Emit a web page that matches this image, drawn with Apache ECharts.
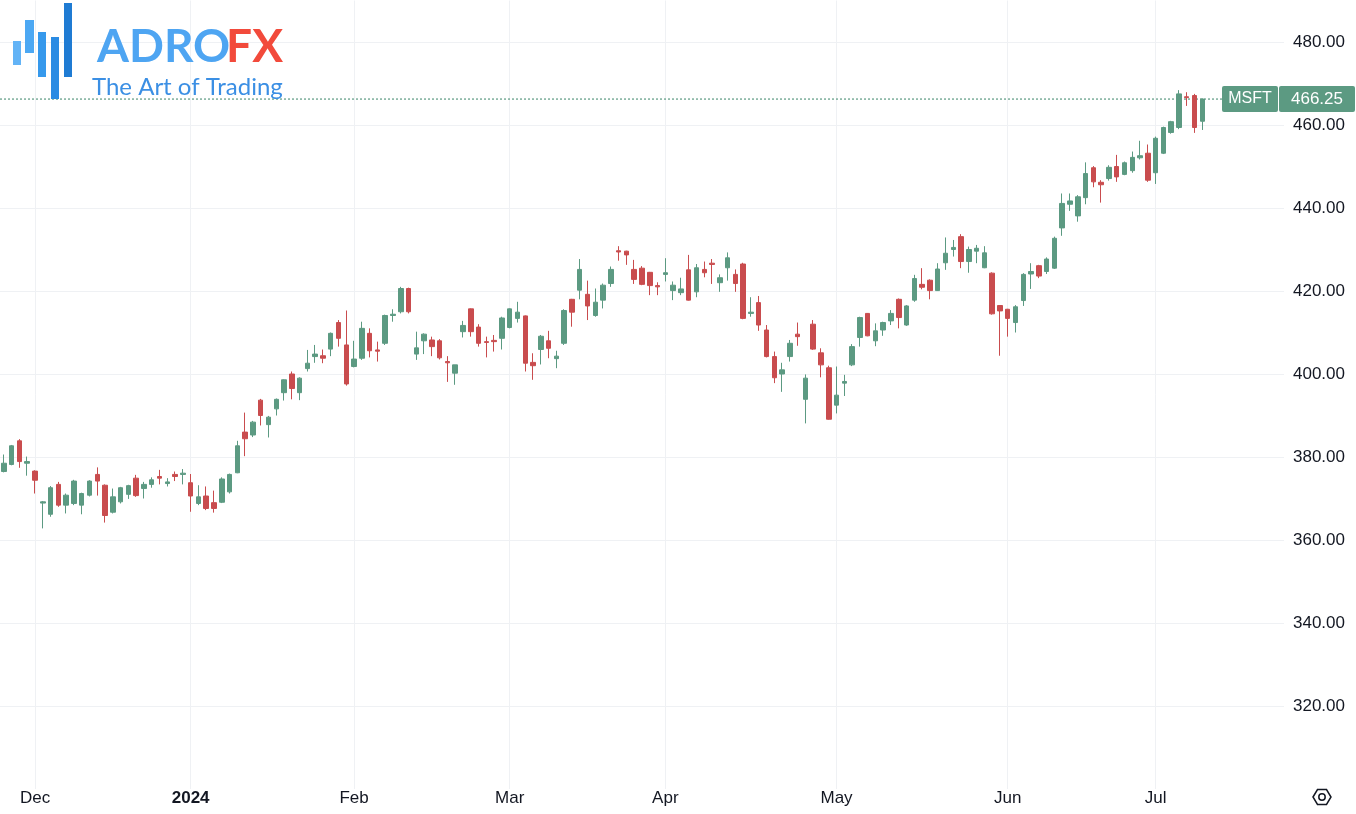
<!DOCTYPE html>
<html><head><meta charset="utf-8">
<script src="https://cdn.jsdelivr.net/npm/echarts@6/dist/echarts.min.js"></script>
<style>html,body{margin:0;padding:0;background:#fff;}#c{width:1356px;height:814px;}</style>
</head><body><div id="c"></div>
<script>
const symbol = 'MSFT';
const dates = [
'2023-11-27','2023-11-28','2023-11-29','2023-11-30',
'2023-12-01','2023-12-04','2023-12-05','2023-12-06','2023-12-07','2023-12-08','2023-12-11','2023-12-12','2023-12-13','2023-12-14','2023-12-15','2023-12-18','2023-12-19','2023-12-20','2023-12-21','2023-12-22','2023-12-26','2023-12-27','2023-12-28','2023-12-29',
'2024-01-02','2024-01-03','2024-01-04','2024-01-05','2024-01-08','2024-01-09','2024-01-10','2024-01-11','2024-01-12','2024-01-16','2024-01-17','2024-01-18','2024-01-19','2024-01-22','2024-01-23','2024-01-24','2024-01-25','2024-01-26','2024-01-29','2024-01-30','2024-01-31',
'2024-02-01','2024-02-02','2024-02-05','2024-02-06','2024-02-07','2024-02-08','2024-02-09','2024-02-12','2024-02-13','2024-02-14','2024-02-15','2024-02-16','2024-02-20','2024-02-21','2024-02-22','2024-02-23','2024-02-26','2024-02-27','2024-02-28','2024-02-29',
'2024-03-01','2024-03-04','2024-03-05','2024-03-06','2024-03-07','2024-03-08','2024-03-11','2024-03-12','2024-03-13','2024-03-14','2024-03-15','2024-03-18','2024-03-19','2024-03-20','2024-03-21','2024-03-22','2024-03-25','2024-03-26','2024-03-27','2024-03-28',
'2024-04-01','2024-04-02','2024-04-03','2024-04-04','2024-04-05','2024-04-08','2024-04-09','2024-04-10','2024-04-11','2024-04-12','2024-04-15','2024-04-16','2024-04-17','2024-04-18','2024-04-19','2024-04-22','2024-04-23','2024-04-24','2024-04-25','2024-04-26','2024-04-29','2024-04-30',
'2024-05-01','2024-05-02','2024-05-03','2024-05-06','2024-05-07','2024-05-08','2024-05-09','2024-05-10','2024-05-13','2024-05-14','2024-05-15','2024-05-16','2024-05-17','2024-05-20','2024-05-21','2024-05-22','2024-05-23','2024-05-24','2024-05-28','2024-05-29','2024-05-30','2024-05-31',
'2024-06-03','2024-06-04','2024-06-05','2024-06-06','2024-06-07','2024-06-10','2024-06-11','2024-06-12','2024-06-13','2024-06-14','2024-06-17','2024-06-18','2024-06-20','2024-06-21','2024-06-24','2024-06-25','2024-06-26','2024-06-27','2024-06-28',
'2024-07-01','2024-07-02','2024-07-03','2024-07-05','2024-07-08','2024-07-09','2024-07-10'
];
const open = [
376.5,378.2,383.9,378.5,
376.6,368.9,366.2,373.4,368.4,368.8,368.4,370.8,375.8,373.2,366.7,369.2,371.0,374.9,372.4,373.4,375.3,373.6,375.8,375.8,
373.8,368.8,370.6,369.0,369.1,371.6,376.2,386.0,385.3,393.7,387.8,391.6,395.5,400.0,395.5,401.3,404.2,404.4,406.0,412.4,407.0,
401.8,403.8,409.8,405.8,407.4,414.1,415.0,420.6,404.8,408.0,408.2,408.0,403.0,400.2,410.2,415.7,411.3,407.8,408.1,408.6,
411.2,413.4,414.0,402.8,405.9,408.0,403.7,407.4,418.0,420.2,419.2,414.1,417.8,421.8,429.7,429.6,425.2,425.5,424.5,421.3,
424.0,420.1,419.6,425.1,419.8,425.2,426.7,422.0,425.6,424.0,426.5,414.6,417.2,410.6,404.2,400.0,404.2,409.6,393.9,412.0,405.1,401.5,
392.5,397.8,402.2,408.8,414.6,408.0,410.6,412.8,418.0,411.8,417.8,421.6,422.6,420.1,426.8,430.0,433.1,427.1,429.6,425.6,424.3,416.5,
415.6,412.4,417.7,424.1,426.1,424.7,425.5,435.2,440.9,438.1,442.5,449.7,446.2,447.1,450.0,448.1,449.0,452.1,453.2,
448.5,453.2,458.2,459.4,466.8,467.1,460.9
];
const high = [
380.6,382.9,384.3,380.1,
376.8,369.4,373.0,374.0,371.2,374.5,371.4,374.4,377.5,373.4,372.4,372.8,373.3,375.7,374.0,375.1,376.9,374.9,376.5,377.1,
375.9,373.2,372.9,371.9,375.1,376.0,383.9,390.7,388.7,394.0,389.9,394.1,398.7,400.6,399.2,405.8,407.0,405.9,410.0,413.0,415.3,
408.0,412.6,411.0,407.8,414.3,415.6,421.0,420.8,410.2,409.8,409.0,408.4,404.3,402.2,412.8,415.8,412.0,409.0,409.4,413.8,
415.8,417.4,414.1,405.0,409.4,410.4,405.6,415.6,418.1,427.7,422.5,420.6,421.8,425.9,430.8,429.7,427.5,426.0,424.6,422.1,
427.9,422.3,423.2,428.7,426.5,427.1,427.7,424.0,429.3,425.2,426.8,418.5,418.8,411.8,405.4,402.7,408.2,412.4,399.9,413.0,406.2,402.0,
401.8,399.8,407.2,413.8,414.7,412.2,412.6,415.4,418.2,416.6,423.9,425.5,422.8,426.7,432.9,432.3,433.7,430.7,431.1,430.8,424.5,416.6,
415.7,416.6,424.3,426.7,426.3,428.1,433.1,443.5,443.5,443.1,451.0,450.1,446.7,450.3,452.8,451.2,453.6,456.2,455.3,
457.2,459.6,461.0,468.4,467.9,467.5,466.4
];
const low = [
376.3,378.0,377.4,375.5,
371.2,362.8,365.6,368.0,366.4,368.4,366.2,370.5,370.7,364.2,366.4,368.8,369.9,370.4,370.0,372.6,373.4,372.9,374.2,373.4,
366.8,368.4,367.2,366.6,368.9,371.2,376.1,380.2,384.8,387.6,384.7,390.0,393.6,393.9,393.7,400.6,402.7,402.6,404.3,406.6,397.2,
401.6,403.4,404.0,403.0,407.0,412.6,414.6,414.6,403.4,404.8,404.3,403.5,398.1,397.4,408.8,409.0,406.6,404.0,405.4,405.9,
411.0,412.4,400.6,398.6,402.3,403.8,401.4,407.0,411.4,418.0,413.0,413.8,415.8,421.0,427.3,426.3,421.7,421.4,419.0,419.0,
422.3,417.8,419.0,417.7,418.5,423.3,421.7,419.8,422.5,419.8,413.2,413.8,410.4,404.0,397.8,395.7,403.0,406.8,388.1,405.8,399.2,389.0,
390.5,394.7,401.9,406.6,409.1,406.7,409.2,411.8,411.0,411.6,417.4,420.4,418.0,420.0,425.1,428.3,425.5,424.4,426.7,425.5,414.3,404.4,
409.0,410.0,416.4,420.5,423.1,424.1,425.3,433.3,439.3,436.7,440.9,445.0,441.3,446.6,446.3,447.9,448.5,451.7,446.3,
445.8,453.0,457.9,459.0,464.6,458.1,458.8
];
const close = [
378.5,382.7,378.9,378.9,
374.4,369.2,372.6,368.4,370.8,374.2,371.2,374.2,374.2,365.9,370.4,372.6,373.1,370.7,373.4,374.5,374.9,374.0,375.3,376.1,
370.6,370.4,367.6,367.6,374.7,375.8,382.7,384.4,388.4,390.0,389.6,393.9,398.6,396.5,399.0,402.6,404.8,403.8,409.8,408.6,397.6,
403.6,411.0,405.6,405.5,414.1,414.4,420.6,415.0,406.3,409.6,406.6,403.9,402.7,402.2,411.7,410.2,407.4,407.6,407.8,413.5,
415.7,414.9,402.6,402.0,409.1,406.2,404.3,415.3,414.9,425.2,416.4,417.3,421.4,425.2,429.4,428.7,422.8,421.6,421.3,421.0,
424.4,421.4,420.5,417.8,425.6,424.4,426.4,423.2,428.0,421.8,413.4,414.9,411.8,404.2,399.1,401.0,407.4,409.0,399.0,406.0,402.2,389.1,
394.9,398.2,406.6,413.6,409.2,410.4,412.4,414.6,413.6,416.4,423.0,420.9,420.1,425.3,429.1,430.5,427.1,430.0,430.3,429.2,414.5,415.2,
413.4,416.2,424.0,424.7,423.6,427.7,432.7,441.1,441.7,442.7,448.3,446.3,445.6,449.8,447.5,450.9,452.2,452.6,446.7,
456.8,459.4,460.8,467.5,466.6,459.4,466.25
];
const monthNames = ['Jan','Feb','Mar','Apr','May','Jun','Jul','Aug','Sep','Oct','Nov','Dec'];

const UP = '#5c9a82', DOWN = '#c94c4e', GRID = '#eff1f4', TXT = '#131722';
const PAD_END = 10;
const cats = dates.slice();
for (let i = 0; i < PAD_END; i++) cats.push('pad_e' + i);

const labelIdx = [];
for (let k = 1; k < dates.length; k++) {
  if (dates[k].slice(5, 7) !== dates[k - 1].slice(5, 7)) labelIdx.push(k);
}
const labelSet = new Set(labelIdx);
const candle = dates.map((d, k) => [open[k], close[k], low[k], high[k]]);
for (let i = 0; i < PAD_END; i++) candle.push(['-', '-', '-', '-']);

const chart = echarts.init(document.getElementById('c'), null, {renderer: 'canvas'});
const FONT = 'Liberation Sans';
chart.setOption({
  animation: false,
  backgroundColor: '#ffffff',
  grid: {left: 0, right: 72, top: 0.5, bottom: 25, containLabel: false},
  xAxis: {
    type: 'category', data: cats, boundaryGap: true,
    axisLine: {show: false}, axisTick: {show: false},
    axisLabel: {
      interval: (i) => labelSet.has(i), margin: 1,
      color: TXT, fontSize: 17, fontFamily: FONT,
      formatter: (v) => {
        if (v.indexOf('pad') === 0) return '';
        const m = +v.slice(5, 7);
        return m === 1 ? '{y|' + v.slice(0, 4) + '}' : monthNames[m - 1];
      },
      rich: {y: {fontWeight: 'bold', fontSize: 17, fontFamily: FONT, color: TXT}}
    },
    splitLine: {show: false}
  },
  yAxis: {
    type: 'value', position: 'right', min: 300, max: 490, interval: 20,
    axisLine: {show: false}, axisTick: {show: false},
    axisLabel: {
      margin: 9, color: TXT, fontSize: 17, fontFamily: FONT,
      formatter: (v) => (v > 300 && v < 490) ? v.toFixed(2) : ''
    },
    splitLine: {show: true, showMinLine: false, showMaxLine: false, lineStyle: {color: GRID, width: 1}}
  },
  series: [{
    type: 'line', data: [], z: 1, silent: true,
    markLine: {
      z: 0, silent: true, symbol: ['none', 'none'], animation: false,
      label: {show: false},
      lineStyle: {color: GRID, width: 1, type: 'solid'},
      data: labelIdx.map(i => ({xAxis: cats[i]}))
    }
  }, {
    type: 'candlestick', name: symbol, data: candle, z: 3,
    barWidth: 5,
    itemStyle: {color: UP, color0: DOWN, borderColor: UP, borderColor0: DOWN, borderWidth: 1}
  }]
});

const last = close[close.length - 1];
const py = chart.convertToPixel({yAxisIndex: 0}, last);
const logoBars = [
  {x: 13, y: 41, w: 8, h: 24, c: '#62b3f6'},
  {x: 25, y: 20, w: 9, h: 33, c: '#4ca8f3'},
  {x: 38, y: 32, w: 8, h: 45, c: '#3699ec'},
  {x: 51, y: 37, w: 8, h: 62, c: '#2a8be3'},
  {x: 64, y: 3, w: 8, h: 74, c: '#1f7bd3'}
];
const g = [];
g.push({type: 'line', z: 1, shape: {x1: 0, y1: py, x2: 1222, y2: py},
  style: {stroke: UP, lineWidth: 1.2, lineDash: [2, 2]}});
logoBars.forEach(b => g.push({type: 'rect', z: 10, shape: {x: b.x, y: b.y, width: b.w, height: b.h}, style: {fill: b.c}}));
g.push({type: 'text', z: 10, x: 97, y: 47, style: {text: 'ADRO', fill: '#4ea5f2', font: 'bold 46px Lato', verticalAlign: 'middle', align: 'left'}});
g.push({type: 'text', z: 10, x: 283, y: 47, style: {text: 'FX', fill: '#f24a3b', font: 'bold 46px Lato', verticalAlign: 'middle', align: 'right'}});
g.push({type: 'text', z: 10, x: 92, y: 87, style: {text: 'The Art of Trading', fill: '#3b8fe4', font: '24px Lato', verticalAlign: 'middle', align: 'left'}});
g.push({type: 'rect', z: 20, shape: {x: 1222, y: py - 13, width: 56, height: 26, r: 2}, style: {fill: UP}});
g.push({type: 'text', z: 21, x: 1250, y: py, style: {text: symbol, fill: '#fff', font: '16px "Liberation Sans"', align: 'center', verticalAlign: 'middle'}});
g.push({type: 'rect', z: 20, shape: {x: 1279, y: py - 13, width: 76, height: 26, r: 2}, style: {fill: UP}});
g.push({type: 'text', z: 21, x: 1317, y: py, style: {text: last.toFixed(2), fill: '#fff', font: '17px "Liberation Sans"', align: 'center', verticalAlign: 'middle'}});
g.push({type: 'polygon', z: 10, shape: {points: [[1313, 797], [1317.5, 789.5], [1326.5, 789.5], [1331, 797], [1326.5, 804.5], [1317.5, 804.5]]},
  style: {fill: 'none', stroke: TXT, lineWidth: 1.5}});
g.push({type: 'circle', z: 10, shape: {cx: 1322, cy: 797, r: 3.2}, style: {fill: 'none', stroke: TXT, lineWidth: 1.5}});
chart.setOption({graphic: g});
</script>
</body></html>
